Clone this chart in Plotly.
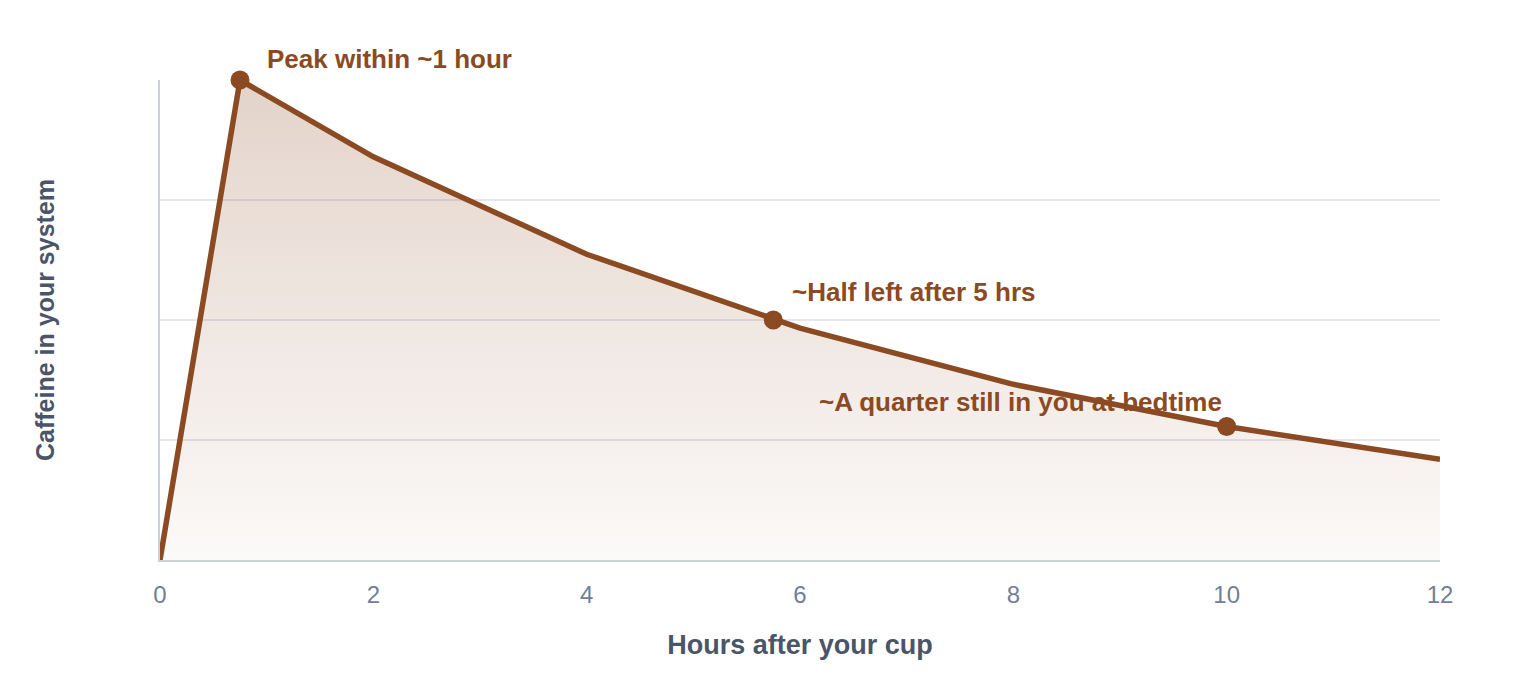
import plotly.graph_objects as go

hours = [0, 0.75, 2, 4, 6, 8, 10, 12]
caffeine = [0, 100, 84, 63.7, 48.3, 36.6, 27.8, 21.0]

mark_hours = [0.75, 5.75, 10]
mark_vals = [100, 50, 27.8]
mark_labels = ["Peak within ~1 hour", "~Half left after 5 hrs", "~A quarter still in you at bedtime"]

x_ticks = [0, 2, 4, 6, 8, 10, 12]

BROWN = "#8B4A22"
FONT = "Liberation Sans, Arial, Helvetica, sans-serif"

fig = go.Figure()
fig.add_trace(go.Scatter(
    x=hours, y=caffeine, mode="lines",
    line=dict(color=BROWN, width=5.5),
    fill="tozeroy",
    fillgradient=dict(type="vertical",
                      colorscale=[[0, "rgba(139,74,34,0.03)"], [1, "rgba(139,74,34,0.24)"]]),
    cliponaxis=False,
    hoverinfo="skip", showlegend=False,
))
fig.add_trace(go.Scatter(
    x=mark_hours, y=mark_vals, mode="markers",
    marker=dict(color=BROWN, size=19),
    cliponaxis=False,
    showlegend=False,
))

offsets = [(25, -21, "left"), (17, -28, "left"), (-3, -25, "right")]
for (hx, vy, lab), (ax, ay, anc) in zip(zip(mark_hours, mark_vals, mark_labels), offsets):
    fig.add_annotation(x=hx, y=vy, text=f"<b>{lab}</b>", showarrow=True, arrowcolor="rgba(0,0,0,0)",
                       ax=ax, ay=ay, xanchor=anc, yanchor="middle",
                       font=dict(family=FONT, size=26, color=BROWN))

fig.update_layout(
    width=1520, height=680,
    margin=dict(l=160, r=80, t=80, b=120),
    paper_bgcolor="white", plot_bgcolor="white",
    font=dict(family=FONT),
    xaxis=dict(range=[0, 12], tickvals=x_ticks, showgrid=False, zeroline=False,
               showline=True, linecolor="#CBD2DC", linewidth=2,
               tickfont=dict(size=24, color="#718096"), ticks="", ticklabelstandoff=12,
               title=dict(text="<b>Hours after your cup</b>", font=dict(size=27, color="#4A5568"), standoff=28)),
    yaxis=dict(range=[0, 100], tickvals=[0, 25, 50, 75, 100], showticklabels=False,
               showgrid=True, gridcolor="#E6E6EF", gridwidth=2, zeroline=False,
               showline=True, linecolor="#CBD2DC", linewidth=2, ticks="",
               title=dict(text="<b>Caffeine in your system</b>", font=dict(size=25, color="#4A5568"), standoff=96)),
)

fig.write_html("out.html")
